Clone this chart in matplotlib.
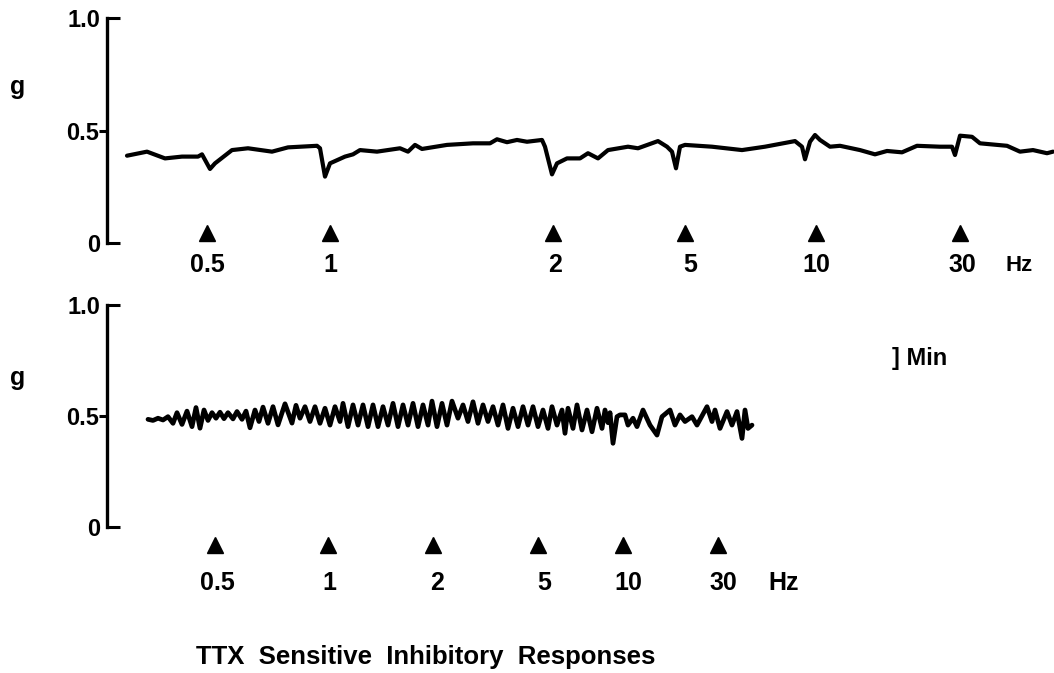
import matplotlib
matplotlib.use("Agg")
import matplotlib.pyplot as plt

plt.rcParams['font.family'] = ['Liberation Sans', 'DejaVu Sans']

# ---------------- data (time in arbitrary recording units, force in g) ----------------
top_t = [127, 147, 165, 182, 198, 202, 210, 215, 232, 248, 272, 288, 317, 320, 325, 330,
         345, 353, 360, 377, 400, 408, 415, 422, 447, 473, 490, 497, 507, 517, 527, 542,
         545, 552, 557, 567, 580, 588, 598, 608, 628, 638, 658, 667, 672, 676, 680, 685,
         712, 742, 765, 795, 802, 805, 810, 815, 820, 830, 840, 860, 875, 887, 902, 917,
         940, 952, 955, 960, 972, 980, 1007, 1020, 1033, 1047, 1053]
top_g = [0.388, 0.406, 0.376, 0.384, 0.384, 0.394, 0.329, 0.354, 0.413, 0.421, 0.406, 0.425,
         0.432, 0.421, 0.295, 0.354, 0.384, 0.394, 0.413, 0.406, 0.421, 0.406, 0.436, 0.418,
         0.436, 0.443, 0.443, 0.461, 0.448, 0.458, 0.450, 0.458, 0.428, 0.305, 0.354, 0.376,
         0.376, 0.399, 0.376, 0.413, 0.428, 0.421, 0.453, 0.428, 0.406, 0.332, 0.428, 0.436,
         0.428, 0.413, 0.428, 0.453, 0.428, 0.372, 0.450, 0.480, 0.458, 0.428, 0.432, 0.413,
         0.394, 0.409, 0.403, 0.432, 0.428, 0.428, 0.391, 0.477, 0.472, 0.443, 0.432, 0.406,
         0.413, 0.399, 0.406]

bot_t = [148, 153, 158, 163, 168, 173, 177, 182, 187, 192, 196, 200, 204, 208, 212, 216,
         220, 224, 228, 233, 237, 242, 246, 250, 255, 259, 263, 268, 273, 278, 285, 292,
         296, 300, 305, 310, 315, 320, 325, 330, 335, 340, 343, 348, 353, 358, 363, 368,
         373, 378, 383, 388, 393, 398, 403, 408, 413, 418, 423, 428, 432, 437, 442, 447,
         452, 458, 463, 468, 473, 478, 483, 488, 493, 498, 503, 508, 513, 518, 523, 528,
         533, 538, 543, 548, 552, 557, 562, 565, 568, 573, 577, 582, 587, 592, 597, 602,
         605, 608, 610, 613, 617, 620, 625, 628, 633, 637, 643, 650, 657, 662, 670, 675,
         680, 685, 692, 697, 707, 712, 715, 720, 727, 732, 737, 742, 745, 748, 752]
bot_g = [0.485, 0.480, 0.490, 0.482, 0.497, 0.467, 0.515, 0.462, 0.522, 0.452, 0.538, 0.445,
         0.527, 0.480, 0.515, 0.490, 0.517, 0.488, 0.515, 0.487, 0.520, 0.485, 0.522, 0.447,
         0.527, 0.475, 0.540, 0.467, 0.542, 0.460, 0.555, 0.468, 0.548, 0.490, 0.542, 0.475,
         0.542, 0.467, 0.535, 0.459, 0.542, 0.475, 0.557, 0.452, 0.550, 0.459, 0.550, 0.452,
         0.550, 0.452, 0.542, 0.459, 0.557, 0.452, 0.550, 0.459, 0.557, 0.452, 0.550, 0.459,
         0.567, 0.452, 0.557, 0.459, 0.567, 0.490, 0.550, 0.475, 0.564, 0.467, 0.550, 0.475,
         0.542, 0.459, 0.550, 0.444, 0.535, 0.452, 0.542, 0.459, 0.542, 0.452, 0.527, 0.444,
         0.542, 0.459, 0.527, 0.422, 0.535, 0.444, 0.550, 0.437, 0.527, 0.429, 0.535, 0.444,
         0.527, 0.470, 0.515, 0.377, 0.497, 0.505, 0.505, 0.459, 0.490, 0.452, 0.527, 0.459,
         0.414, 0.497, 0.527, 0.459, 0.505, 0.475, 0.497, 0.459, 0.542, 0.475, 0.527, 0.444,
         0.520, 0.459, 0.520, 0.399, 0.527, 0.444, 0.459]

freq_labels = ['0.5', '1', '2', '5', '10', '30']
top_stim_t = [207, 330, 553, 685, 816, 960]
top_label_t = [207, 330, 555, 690, 816, 962]
bot_stim_t = [215, 328, 433, 538, 623, 718]
bot_label_t = [217, 329, 437, 544, 628, 723]

y_ticks_major = [0.0, 1.0]
y_ticks_minor = [0.5]
y_major_labels = ['0', '1.0']
y_minor_labels = ['0.5']

title = 'TTX  Sensitive  Inhibitory  Responses'

# ---------------- figure ----------------
W, H = 1054, 673
fig = plt.figure(figsize=(W / 100, H / 100), dpi=100)
fig.patch.set_facecolor('white')

X0 = 107


def make_axes(top_px, bottom_px):
    ax = fig.add_axes([X0 / W, 1 - bottom_px / H, (W - X0) / W, (bottom_px - top_px) / H])
    ax.set_xlim(X0, W)
    ax.set_ylim(0, 1.0)
    for s in ['top', 'right', 'bottom']:
        ax.spines[s].set_visible(False)
    ax.spines['left'].set_linewidth(2.4)
    ax.set_xticks([])
    ax.set_yticks(y_ticks_major, labels=y_major_labels)
    ax.set_yticks(y_ticks_minor, labels=y_minor_labels, minor=True)
    ax.tick_params(axis='y', which='major', direction='in', length=9, width=2.2,
                   pad=5, labelsize=17)
    ax.tick_params(axis='y', which='minor', direction='out', length=6, width=2.2,
                   pad=0, labelsize=17)
    for lab in ax.get_yticklabels(which='both'):
        lab.set_fontweight('bold')
    ax.patch.set_alpha(0)
    return ax


ax1 = make_axes(18, 243)
ax2 = make_axes(305, 527)

ax1.plot(top_t, top_g, color='black', lw=3.0, solid_joinstyle='round',
         solid_capstyle='round', clip_on=False)
ax2.plot(bot_t, bot_g, color='black', lw=3.4, solid_joinstyle='round',
         solid_capstyle='round', clip_on=False)

# stimulus markers and frequency labels
ax1.plot(top_stim_t, [0.045] * len(top_stim_t), linestyle='none', marker='^',
         ms=11, color='black', clip_on=False)
for t, lab in zip(top_label_t, freq_labels):
    ax1.text(t, -0.098, lab, ha='center', va='center', fontsize=18, fontweight='bold')
ax1.text(1019, -0.098, 'Hz', ha='center', va='center', fontsize=16, fontweight='bold')

ax2.plot(bot_stim_t, [-0.081] * len(bot_stim_t), linestyle='none', marker='^',
         ms=11, color='black', clip_on=False)
for t, lab in zip(bot_label_t, freq_labels):
    ax2.text(t, -0.252, lab, ha='center', va='center', fontsize=18, fontweight='bold')
ax2.text(784, -0.252, 'Hz', ha='center', va='center', fontsize=18, fontweight='bold')

ax2.text(892, 0.757, '] Min', ha='left', va='center', fontsize=17, fontweight='bold')

# y-axis "g" labels
fig.text(18 / W, 1 - 87 / H, 'g', ha='center', va='center', fontsize=18, fontweight='bold')
fig.text(18 / W, 1 - 378 / H, 'g', ha='center', va='center', fontsize=18, fontweight='bold')

fig.text(426 / W, 1 - 657 / H, title, ha='center', va='center', fontsize=18.5,
         fontweight='bold')

fig.savefig('out.png', dpi=100, facecolor='white')
